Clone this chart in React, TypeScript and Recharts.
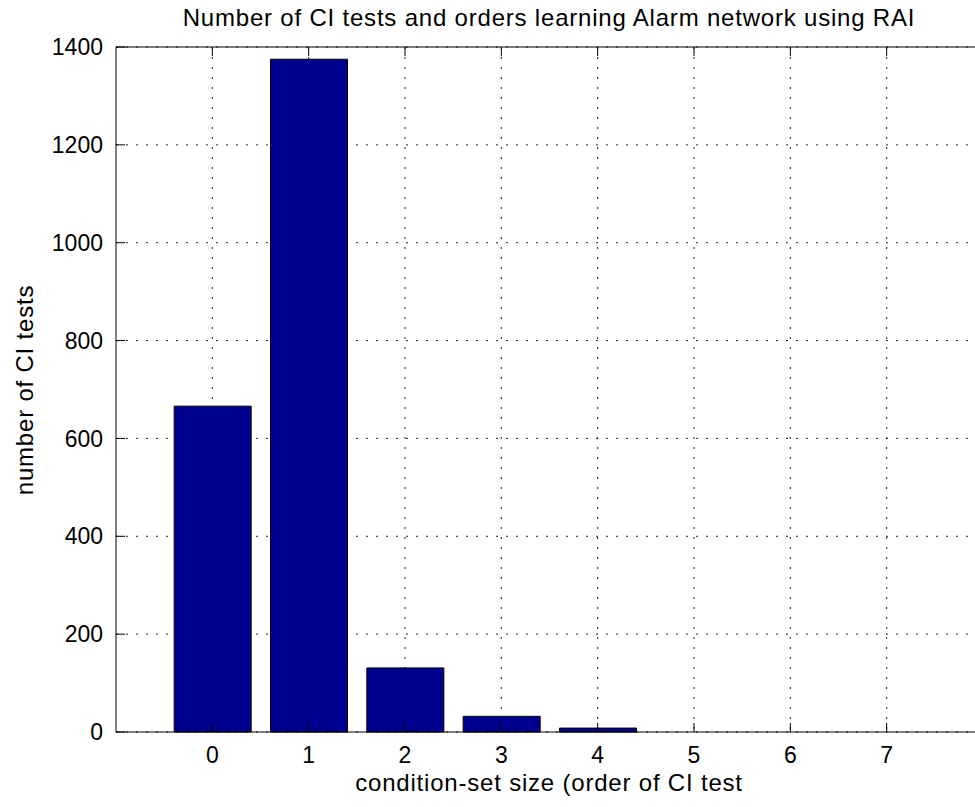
import React from "react";
import { BarChart, Bar, XAxis, YAxis, CartesianGrid, ReferenceLine } from "recharts";

// condition-set size (order of CI test) and number of CI tests per order
const orders = [0, 1, 2, 3, 4, 5, 6, 7];
const ciTests = [666, 1375, 131, 32, 8, 0, 0, 0];
const yTicks = [0, 200, 400, 600, 800, 1000, 1200, 1400];
const xDomain = [-1, 8];

const title = "Number of CI tests and orders learning Alarm network using RAI";
const xLabel = "condition-set size (order of CI test";
const yLabel = "number of CI tests";

const data = orders.map((o, i) => ({ order: o, tests: ciTests[i] }));

const FONT = "'Liberation Sans', Arial, sans-serif";
const PLOT_TOP = 47;
const TICK_LEN = 9;

// matlab style: ticks point into the plot, also on the top edge
function BottomTick(props: any) {
    const { x, y, payload } = props;
    return (
        <g>
            <line x1={x} x2={x} y1={y} y2={y - TICK_LEN} stroke="#000" />
            <line x1={x} x2={x} y1={PLOT_TOP} y2={PLOT_TOP + TICK_LEN} stroke="#000" />
            <text x={x} y={y + 15} dy="0.71em" textAnchor="middle" fill="#000" fontSize={23} fontFamily={FONT}>
                {payload.value}
            </text>
        </g>
    );
}

function LeftTick(props: any) {
    const { x, y, payload } = props;
    return (
        <g>
            <line x1={x} x2={x + TICK_LEN} y1={y} y2={y} stroke="#000" />
            <text x={x - 13} y={y} dy="0.355em" textAnchor="end" fill="#000" fontSize={23} fontFamily={FONT}>
                {payload.value}
            </text>
        </g>
    );
}

export default function App() {
    const textStyle: React.CSSProperties = {
        position: "absolute",
        fontFamily: FONT,
        fontSize: 24,
        lineHeight: "24px",
        letterSpacing: 0.8,
        color: "#000",
        whiteSpace: "nowrap",
    };
    return (
        <div style={{ position: "absolute", left: 0, top: 0, width: 975, height: 807, overflow: "hidden", background: "#fff" }}>
            <BarChart
                width={1000}
                height={807}
                data={data}
                margin={{ top: PLOT_TOP, left: 56, right: 17, bottom: 45 }}
                style={{ fontFamily: FONT }}
            >
                <CartesianGrid
                    xAxisId="bottom"
                    stroke="#222"
                    strokeDasharray="2 8"
                    horizontalValues={yTicks}
                    verticalValues={orders}
                />
                <XAxis
                    xAxisId="bottom"
                    type="number"
                    dataKey="order"
                    domain={xDomain}
                    ticks={orders}
                    interval={0}
                    height={30}
                    tickSize={0}
                    tickMargin={0}
                    tickLine={false}
                    axisLine={{ stroke: "#000" }}
                    tick={<BottomTick />}
                />
                <YAxis
                    type="number"
                    domain={[0, 1400]}
                    ticks={yTicks}
                    interval={0}
                    width={60}
                    tickSize={0}
                    tickMargin={0}
                    tickLine={false}
                    axisLine={{ stroke: "#000" }}
                    tick={<LeftTick />}
                />
                <Bar
                    xAxisId="bottom"
                    dataKey="tests"
                    fill="#00008f"
                    stroke="#000"
                    strokeWidth={1}
                    barSize={77}
                    isAnimationActive={false}
                />
                <ReferenceLine xAxisId="bottom" y={1400} stroke="#000" strokeWidth={1} />
            </BarChart>
            <div style={{ ...textStyle, left: 549, top: 6, transform: "translateX(-50%)" }}>{title}</div>
            <div style={{ ...textStyle, left: 549, top: 771, transform: "translateX(-50%)" }}>{xLabel}</div>
            <div
                style={{
                    ...textStyle,
                    left: 25,
                    top: 390,
                    transform: "translate(-50%, -50%) rotate(-90deg)",
                }}
            >
                {yLabel}
            </div>
        </div>
    );
}
